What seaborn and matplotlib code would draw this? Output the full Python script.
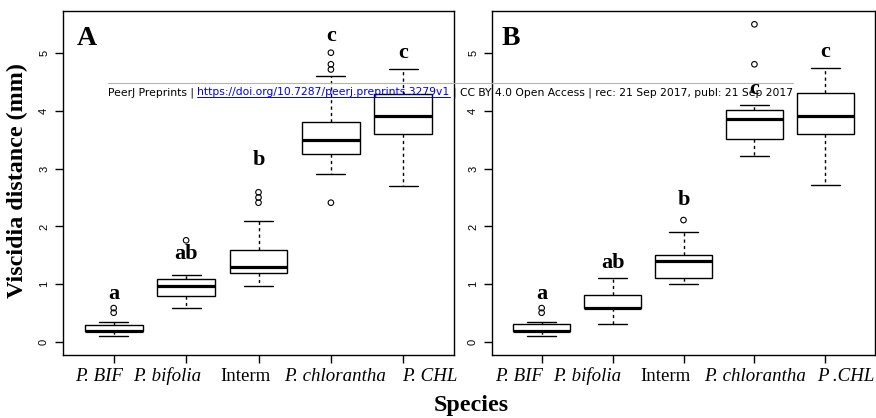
import matplotlib
matplotlib.use("Agg")
import matplotlib.pyplot as plt
from matplotlib.lines import Line2D
import pandas as pd
import seaborn as sns

# ---- data -------------------------------------------------------------
species_a = ["P. BIF", "P. bifolia", "Interm", "P. chlorantha", "P. CHL"]
species_b = ["P. BIF", "P. bifolia", "Interm", "P. chlorantha", "P .CHL"]
italic_label = [True, True, False, True, True]

# Panel A: whisker ends, quartiles, medians, outliers, group letters
a_low = [0.10, 0.60, 0.98, 2.90, 2.70]
a_q1 = [0.19, 0.80, 1.20, 3.25, 3.60]
a_median = [0.20, 0.97, 1.30, 3.50, 3.90]
a_q3 = [0.30, 1.10, 1.60, 3.80, 4.28]
a_high = [0.345, 1.16, 2.10, 4.60, 4.72]
a_outliers = [[0.51, 0.59], [1.76], [2.41, 2.50, 2.59], [2.41, 4.71, 4.80, 5.00], []]
a_letters = ["a", "ab", "b", "c", "c"]
a_letter_y = [0.74, 1.44, 3.06, 5.21, 4.90]

# Panel B
b_low = [0.11, 0.31, 1.01, 3.21, 2.71]
b_q1 = [0.20, 0.60, 1.11, 3.51, 3.60]
b_median = [0.20, 0.60, 1.41, 3.86, 3.90]
b_q3 = [0.31, 0.81, 1.51, 4.01, 4.30]
b_high = [0.35, 1.11, 1.91, 4.10, 4.74]
b_outliers = [[0.51, 0.59], [], [2.11], [4.80, 5.49], []]
b_letters = ["a", "ab", "b", "c", "c"]
b_letter_y = [0.75, 1.29, 2.37, 4.28, 4.93]

banner_left = "PeerJ Preprints |"
banner_link = "https://doi.org/10.7287/peerj.preprints.3279v1"
banner_right = "| CC BY 4.0 Open Access | rec: 21 Sep 2017, publ: 21 Sep 2017"

# the species names are set as one line of text under each panel,
# so they sit a little off their tick marks
label_x_a = [-0.20, 0.74, 1.82, 3.06, 4.36]
label_x_b = [-0.32, 0.64, 1.74, 3.01, 4.29]

# ---- style ------------------------------------------------------------
sns.set_style("ticks")
plt.rcParams["font.family"] = ["Liberation Serif", "DejaVu Serif"]
for key in ["text.color", "axes.labelcolor", "xtick.color", "ytick.color",
            "axes.edgecolor"]:
    plt.rcParams[key] = "black"

W, H = 876, 418
fig = plt.figure(figsize=(W / 100, H / 100), dpi=100)


def summary_frame(names, low, q1, med, q3, high):
    rows = []
    for name, *vals in zip(names, low, q1, med, q3, high):
        rows += [(name, v) for v in vals]
    return pd.DataFrame(rows, columns=["species", "distance"])


def outlier_frame(names, outliers):
    rows = [(name, v) for name, vals in zip(names, outliers) for v in vals]
    return pd.DataFrame(rows, columns=["species", "distance"])


def panel(rect, names, low, q1, med, q3, high, outliers, letters, letter_y,
          label_x, tag, tag_x):
    ax = fig.add_axes(rect)
    sns.boxplot(data=summary_frame(names, low, q1, med, q3, high),
                x="species", y="distance", order=names, ax=ax,
                width=0.8, color="white", linecolor="black", linewidth=1.0,
                whis=1.5, showfliers=False,
                whiskerprops=dict(linestyle=(0, (2.3, 2.3))),
                medianprops=dict(linewidth=2.3))
    sns.stripplot(data=outlier_frame(names, outliers), x="species",
                  y="distance", order=names, ax=ax, jitter=False, size=4.0,
                  color="black", facecolor="none", edgecolor="black",
                  linewidth=0.8, zorder=4)
    for i, (lab, y) in enumerate(zip(letters, letter_y)):
        ax.text(i, y, lab, ha="center", va="baseline", fontsize=16,
                fontweight="bold")
    ax.text(tag_x, 0.901, tag, transform=ax.transAxes, ha="left",
            va="baseline", fontsize=20, fontweight="bold")

    ax.set_xlim(-0.7, 4.7)
    ax.set_ylim(-0.22, 5.72)
    ax.set_yticks(range(6))
    ax.set_xticks(range(len(names)))
    ax.set_xticklabels([""] * len(names))
    for name, x, it in zip(names, label_x, italic_label):
        ax.text(x, -0.077, name, transform=ax.get_xaxis_transform(),
                ha="center", va="baseline", fontsize=13.6,
                fontstyle="italic" if it else "normal", clip_on=False)
    ax.set_xlabel("")
    ax.set_ylabel("")
    ax.tick_params(direction="out", length=5.5, width=1.0, color="black")
    ax.tick_params(axis="y", pad=4.5, labelrotation=90)
    for lbl in ax.get_yticklabels():
        lbl.set_family(["Liberation Sans", "DejaVu Sans"])
        lbl.set_fontsize(8.0)
        lbl.set_verticalalignment("center")
    for sp in ax.spines.values():
        sp.set_visible(True)
        sp.set_linewidth(1.0)
        sp.set_color("black")
    return ax


def fx(px):
    return px / W


def fy(py):
    return 1 - py / H


panel([fx(63), fy(355), fx(454) - fx(63), fy(11) - fy(355)], species_a,
      a_low, a_q1, a_median, a_q3, a_high, a_outliers, a_letters, a_letter_y,
      label_x_a, "A", 0.036)
panel([fx(492), fy(355), fx(875) - fx(492), fy(11) - fy(355)], species_b,
      b_low, b_q1, b_median, b_q3, b_high, b_outliers, b_letters, b_letter_y,
      label_x_b, "B", 0.025)

fig.text(fx(17), fy(181), "Viscidia distance (mm)", rotation=90,
         ha="center", va="center", fontsize=17.3, fontweight="bold")
fig.text(fx(471), fy(411), "Species", ha="center", va="baseline",
         fontsize=17.3, fontweight="bold")

# ---- preprint banner across the top -----------------------------------
renderer = fig.canvas.get_renderer()
bfont = dict(family="DejaVu Sans", fontsize=7.72)
probe1 = fig.text(0, 0, "a a", **bfont)
probe2 = fig.text(0, 0, "aa", **bfont)
space_px = (probe1.get_window_extent(renderer).width
            - probe2.get_window_extent(renderer).width)
probe1.remove()
probe2.remove()

x_px = 108
base_y = fy(95)
for piece, col, under in [(banner_left, "black", False),
                          (banner_link, "#0000ee", True),
                          (banner_right, "black", False)]:
    t = fig.text(fx(x_px), base_y, piece, color=col, ha="left",
                 va="baseline", zorder=10, **bfont)
    w = t.get_window_extent(renderer).width
    if under:
        fig.add_artist(Line2D([fx(x_px), fx(x_px + w)],
                              [fy(97), fy(97)], color=col, lw=0.7,
                              zorder=10))
    x_px += w + space_px
fig.add_artist(Line2D([fx(108), fx(x_px - space_px)], [fy(82.7), fy(82.7)],
                      color="#b4b4b4", lw=0.8, zorder=10))

fig.savefig("out.png", dpi=100)
